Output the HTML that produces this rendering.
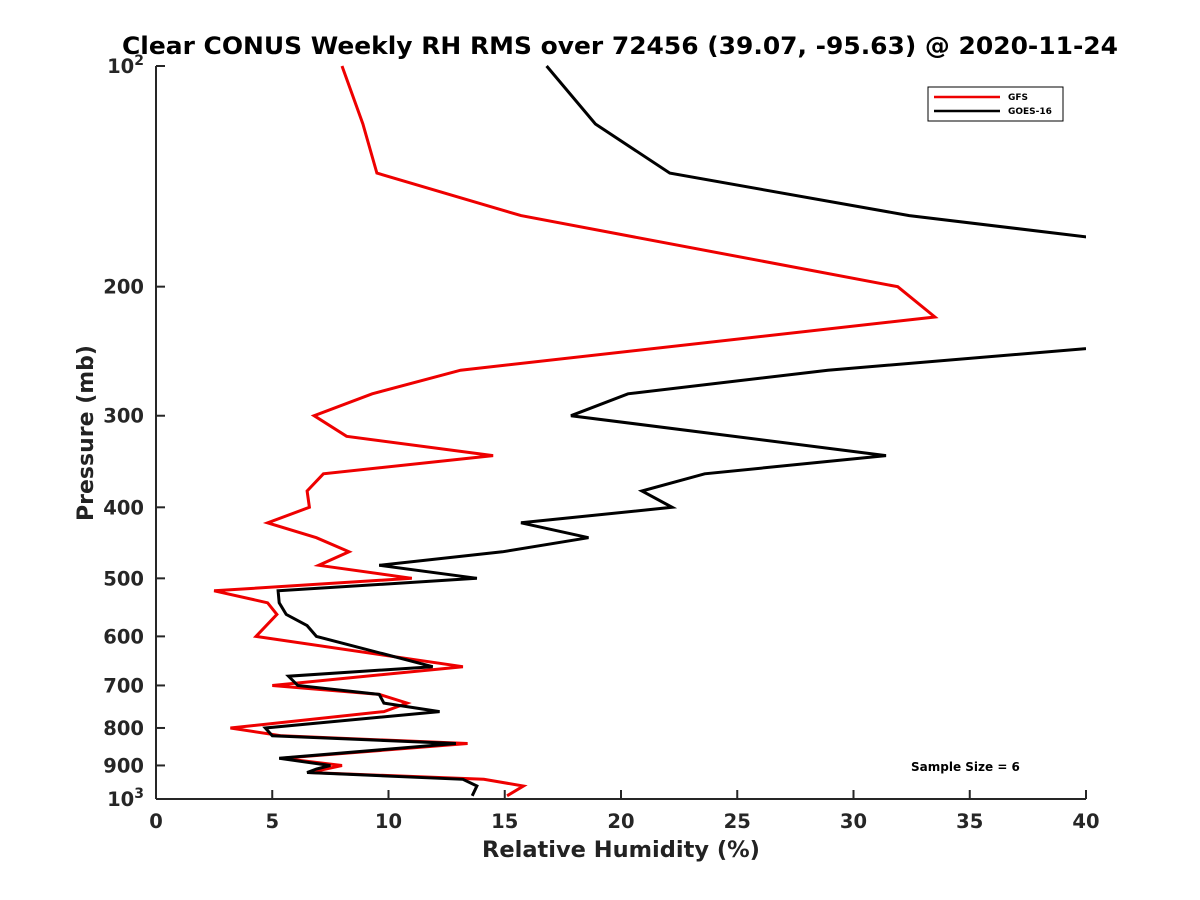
<!DOCTYPE html>
<html><head><meta charset="utf-8">
<style>
html,body{margin:0;padding:0;background:#fff;}
svg{display:block;font-family:"DejaVu Sans","Liberation Sans",sans-serif;}
</style></head>
<body>
<svg id="chart" width="1200" height="900" viewBox="0 0 1200 900">
<rect width="1200" height="900" fill="#fff"/>
<text x="620" y="54" text-anchor="middle" font-size="24" font-weight="bold" fill="#000" textLength="996" lengthAdjust="spacingAndGlyphs">Clear CONUS Weekly RH RMS over 72456 (39.07, -95.63) @ 2020-11-24</text>
<defs><clipPath id="plotclip"><rect x="156" y="60" width="930" height="745"/></clipPath></defs>
<g id="axes"></g>
<g id="series" clip-path="url(#plotclip)"></g>
<g>
<rect x="928" y="87" width="135" height="34" fill="#fff" stroke="#000" stroke-width="1"/>
<line x1="934" y1="97" x2="1000" y2="97" stroke="#e00" stroke-width="2.5"/>
<text x="1008" y="100" font-size="9" font-weight="bold">GFS</text>
<line x1="934" y1="111" x2="1000" y2="111" stroke="#000" stroke-width="2.5"/>
<text x="1008" y="114" font-size="9" font-weight="bold">GOES-16</text>
</g>
<text x="911" y="771" font-size="12" font-weight="bold">Sample Size = 6</text>
<text x="621" y="857" text-anchor="middle" font-size="22.5" font-weight="bold" fill="#222">Relative Humidity (%)</text>
<text transform="translate(93,433) rotate(-90)" text-anchor="middle" font-size="22" font-weight="bold" fill="#222">Pressure (mb)</text>
</svg>
<script>
const xTicks = [0,5,10,15,20,25,30,35,40];
const yTicks = [100,200,300,400,500,600,700,800,900,1000];
const gfsP = [100,120,140,160,200,220,260,280,300,320,340,360,380,400,420,440,460,480,500,520,540,560,600,660,700,720,740,760,800,820,840,880,900,920,940,960,990];
const gfsV = [8.0,8.9,9.5,15.7,31.9,33.5,13.1,9.3,6.8,8.2,14.5,7.2,6.5,6.6,4.8,6.9,8.3,7.0,11.0,2.5,4.8,5.2,4.3,13.2,5.0,9.6,10.8,9.8,3.2,5.4,13.4,5.4,8.0,6.6,14.1,15.8,15.1];
const goesP = [100,120,140,160,180,200,220,240,260,280,300,340,360,380,400,420,440,460,480,500,520,540,560,580,600,660,680,700,720,740,760,800,820,840,880,900,910,920,940,960,990];
const goesV = [16.8,18.9,22.1,32.4,45.8,60,55,42.0,28.9,20.3,17.85,31.4,23.6,20.9,22.2,15.7,18.6,14.9,9.6,13.8,5.25,5.3,5.6,6.5,6.9,11.9,5.7,6.1,9.6,9.8,12.2,4.7,5.0,12.9,5.3,7.5,6.9,6.5,13.2,13.8,13.6];

const NS='http://www.w3.org/2000/svg';
const X0=156,X1=1086,Y0=66,Y1=799;
function xs(v){return X0+(v-0)/(40-0)*(X1-X0);}
function ys(p){return Y0+(Math.log10(p)-2)*(Y1-Y0);}
function mk(tag,attrs,parent){const e=document.createElementNS(NS,tag);for(const k in attrs)e.setAttribute(k,attrs[k]);parent.appendChild(e);return e;}
const axes=document.getElementById('axes');
const xa=mk('line',{x1:X0,y1:Y1,x2:X1,y2:Y1,stroke:'#262626','stroke-width':2},axes);


const ya=mk('line',{x1:X0,y1:Y0,x2:X0,y2:Y1,stroke:'#262626','stroke-width':2},axes);


xTicks.forEach(t=>{
  const x=xs(t);
  mk('line',{x1:x,y1:Y1,x2:x,y2:Y1-9,stroke:'#262626','stroke-width':2},axes);
  const tx=mk('text',{x:x,y:Y1+29,'text-anchor':'middle','font-size':19.5,'font-weight':'bold',fill:'#262626'},axes);
  tx.textContent=t;
  
  
});
yTicks.forEach(p=>{
  const y=ys(p);
  mk('line',{x1:X0,y1:y,x2:X0+9,y2:y,stroke:'#262626','stroke-width':2},axes);
  const tx=mk('text',{x:X0-12,y:y+7,'text-anchor':'end','font-size':19.5,'font-weight':'bold',fill:'#262626'},axes);
  if(p===100||p===1000){
    tx.textContent='10';
    const s=mk('tspan',{dy:-8,'font-size':14},tx);
    s.textContent=p===100?'2':'3';
  } else tx.textContent=p;
  
  
});
const ser=document.getElementById('series');
function drawLine(P,V,color,name){
  const pts=P.map((p,i)=>xs(V[i]).toFixed(1)+','+ys(p).toFixed(1)).join(' ');
  const l=mk('polyline',{points:pts,fill:'none',stroke:color,'stroke-width':3,'stroke-linejoin':'miter'},ser);
  
  
}
drawLine(gfsP,gfsV,'#e00','gfs-line');
drawLine(goesP,goesV,'#000','goes16-line');
</script>
</body></html>
